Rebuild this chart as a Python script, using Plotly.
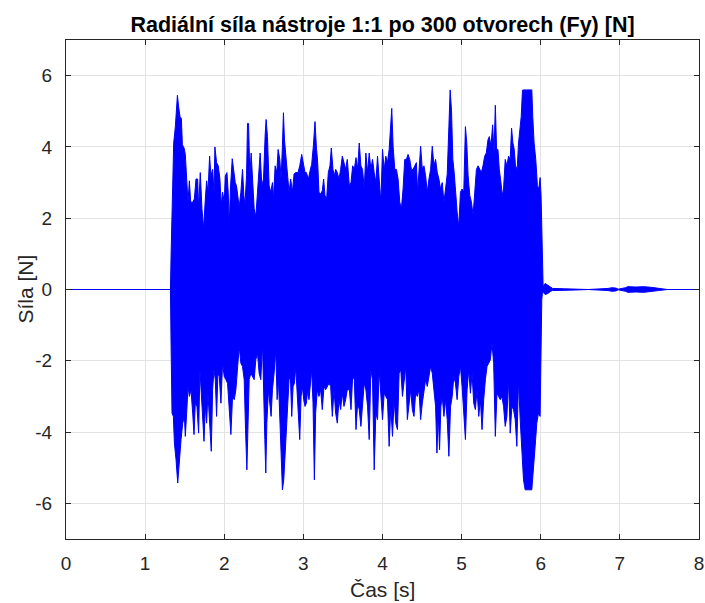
import plotly.graph_objects as go

# ---------------- data ----------------
pre_t = [0.0, 1.32]
pre_v = [0.0, 0.0]

top_t = [1.328, 1.340, 1.361, 1.382, 1.408, 1.424, 1.441, 1.458, 1.471, 1.492, 1.508, 1.525, 1.542,
         1.559, 1.576, 1.601, 1.622, 1.643, 1.664, 1.676, 1.697, 1.718, 1.739, 1.761, 1.777, 1.794,
         1.815, 1.832, 1.853, 1.870, 1.882, 1.903, 1.924, 1.945, 1.962, 1.979, 2.000, 2.013, 2.034,
         2.050, 2.063, 2.080, 2.101, 2.118, 2.139, 2.155, 2.172, 2.189, 2.210, 2.231, 2.248, 2.261,
         2.282, 2.294, 2.307, 2.324, 2.340, 2.357, 2.378, 2.399, 2.416, 2.437, 2.454, 2.475, 2.496,
         2.517, 2.529, 2.546, 2.567, 2.588, 2.609, 2.622, 2.643, 2.664, 2.681, 2.702, 2.718, 2.735,
         2.748, 2.761, 2.777, 2.798, 2.819, 2.840, 2.861, 2.882, 2.903, 2.933, 2.954, 2.979, 3.000,
         3.021, 3.038, 3.063, 3.088, 3.105, 3.126, 3.147, 3.164, 3.181, 3.197, 3.218, 3.239, 3.256,
         3.273, 3.294, 3.315, 3.336, 3.353, 3.374, 3.391, 3.408, 3.429, 3.450, 3.471, 3.492, 3.513,
         3.534, 3.555, 3.581, 3.602, 3.623, 3.644, 3.665, 3.686, 3.706, 3.727, 3.748, 3.769, 3.790,
         3.811, 3.832, 3.853, 3.874, 3.895, 3.916, 3.937, 3.958, 3.979, 4.000, 4.021, 4.042, 4.063,
         4.084, 4.105, 4.117, 4.134, 4.155, 4.176, 4.197, 4.218, 4.239, 4.260, 4.281, 4.302, 4.323,
         4.344, 4.365, 4.386, 4.407, 4.428, 4.444, 4.465, 4.482, 4.503, 4.524, 4.545, 4.566, 4.587,
         4.608, 4.629, 4.650, 4.671, 4.692, 4.713, 4.734, 4.755, 4.776, 4.797, 4.818, 4.839, 4.855,
         4.872, 4.889, 4.906, 4.922, 4.943, 4.964, 4.985, 5.006, 5.027, 5.048, 5.065, 5.082, 5.103,
         5.124, 5.145, 5.166, 5.187, 5.208, 5.229, 5.249, 5.270, 5.291, 5.312, 5.333, 5.350, 5.371,
         5.392, 5.409, 5.426, 5.442, 5.459, 5.476, 5.497, 5.514, 5.530, 5.551, 5.572, 5.593, 5.614,
         5.631, 5.648, 5.665, 5.681, 5.702, 5.719, 5.736, 5.753, 5.769, 5.786, 5.824, 5.866, 5.887,
         5.899, 5.916, 5.937, 5.958, 5.975, 5.992, 6.004, 6.013, 6.021]
top_v = [0.98, 2.54, 4.11, 4.57, 5.45, 5.12, 4.85, 4.80, 4.06, 3.97, 3.79, 3.10, 2.45,
         3.05, 2.45, 2.45, 2.54, 3.10, 3.10, 2.27, 3.28, 2.27, 1.71, 2.54, 3.05, 2.73,
         3.74, 3.19, 3.37, 2.73, 4.00, 3.56, 3.47, 3.10, 2.36, 2.73, 2.45, 3.19, 3.28,
         2.73, 1.81, 2.91, 3.67, 3.37, 3.00, 2.91, 2.54, 2.31, 2.73, 3.37, 2.64, 2.36,
         3.19, 4.66, 4.66, 3.19, 3.83, 2.91, 2.27, 2.04, 2.54, 3.19, 3.83, 2.91, 3.10,
         4.34, 4.77, 4.29, 2.91, 2.73, 3.00, 2.54, 3.47, 3.28, 3.93, 3.65, 3.10, 4.02,
         4.96, 4.20, 3.74, 3.28, 2.73, 3.10, 2.73, 3.24, 3.28, 3.28, 3.47, 3.79, 3.47,
         3.28, 3.28, 3.10, 3.37, 3.51, 4.02, 4.71, 4.02, 3.56, 2.73, 2.68, 2.77, 3.10,
         2.64, 2.54, 3.28, 3.47, 3.97, 3.37, 3.19, 3.37, 3.28, 3.10, 3.37, 3.74, 3.56,
         3.37, 3.65, 2.91, 3.00, 3.47, 3.37, 3.70, 3.37, 4.11, 3.47, 3.37, 2.82, 3.83,
         3.28, 3.83, 3.37, 3.65, 3.28, 3.00, 3.74, 3.00, 2.45, 3.93, 3.37, 3.74, 3.56,
         3.93, 4.62, 5.08, 4.02, 3.37, 3.37, 3.10, 2.45, 2.27, 2.82, 3.65, 3.65, 3.79,
         3.65, 3.37, 3.37, 3.47, 3.56, 2.73, 3.37, 4.02, 3.37, 3.47, 3.19, 2.73, 3.10,
         3.37, 4.02, 3.47, 3.65, 3.28, 3.10, 2.82, 3.00, 2.45, 2.82, 3.24, 4.57, 5.60,
         5.03, 3.65, 3.28, 2.73, 2.18, 1.76, 2.73, 2.82, 2.73, 4.57, 4.11, 3.19, 2.64,
         2.45, 2.08, 2.73, 3.37, 3.47, 3.37, 3.28, 3.47, 3.74, 3.83, 4.20, 4.29, 4.02,
         4.62, 3.83, 5.17, 3.93, 3.93, 3.37, 3.00, 2.64, 2.82, 3.65, 3.47, 3.74, 3.65,
         4.53, 4.11, 3.93, 3.47, 3.37, 4.11, 4.48, 4.85, 5.59, 5.60, 5.60, 5.60, 5.60,
         4.85, 4.11, 3.65, 2.91, 2.82, 3.14, 2.64, 1.62, 0.42]

bot_t = [1.328, 1.340, 1.357, 1.370, 1.391, 1.412, 1.433, 1.454, 1.475, 1.496, 1.508, 1.525, 1.542,
         1.559, 1.580, 1.601, 1.618, 1.634, 1.655, 1.676, 1.693, 1.710, 1.727, 1.744, 1.761, 1.777,
         1.794, 1.815, 1.836, 1.853, 1.870, 1.887, 1.903, 1.920, 1.937, 1.958, 1.979, 2.000, 2.021,
         2.042, 2.063, 2.084, 2.105, 2.126, 2.147, 2.168, 2.189, 2.210, 2.231, 2.252, 2.269, 2.286,
         2.303, 2.315, 2.336, 2.357, 2.378, 2.399, 2.420, 2.441, 2.462, 2.483, 2.496, 2.513, 2.525,
         2.538, 2.559, 2.576, 2.592, 2.609, 2.630, 2.651, 2.668, 2.685, 2.702, 2.718, 2.735, 2.752,
         2.769, 2.786, 2.803, 2.819, 2.836, 2.853, 2.870, 2.887, 2.903, 2.920, 2.937, 2.954, 2.971,
         2.987, 3.004, 3.021, 3.038, 3.055, 3.071, 3.088, 3.105, 3.122, 3.139, 3.155, 3.176, 3.197,
         3.218, 3.239, 3.261, 3.282, 3.303, 3.324, 3.345, 3.366, 3.387, 3.408, 3.429, 3.450, 3.471,
         3.492, 3.513, 3.534, 3.555, 3.581, 3.602, 3.623, 3.644, 3.665, 3.686, 3.706, 3.727, 3.748,
         3.769, 3.790, 3.811, 3.832, 3.853, 3.874, 3.895, 3.916, 3.937, 3.958, 3.979, 4.000, 4.021,
         4.042, 4.063, 4.084, 4.105, 4.126, 4.147, 4.168, 4.189, 4.210, 4.231, 4.252, 4.273, 4.294,
         4.314, 4.335, 4.356, 4.377, 4.398, 4.419, 4.440, 4.461, 4.482, 4.503, 4.524, 4.545, 4.566,
         4.587, 4.608, 4.629, 4.650, 4.671, 4.688, 4.704, 4.721, 4.738, 4.755, 4.776, 4.797, 4.818,
         4.839, 4.860, 4.881, 4.901, 4.922, 4.943, 4.964, 4.985, 5.006, 5.027, 5.048, 5.069, 5.090,
         5.111, 5.132, 5.153, 5.174, 5.195, 5.216, 5.237, 5.258, 5.279, 5.300, 5.321, 5.342, 5.363,
         5.384, 5.405, 5.426, 5.447, 5.468, 5.488, 5.509, 5.530, 5.551, 5.572, 5.593, 5.614, 5.635,
         5.656, 5.677, 5.698, 5.719, 5.740, 5.761, 5.782, 5.803, 5.845, 5.887, 5.908, 5.929, 5.950,
         5.971, 5.992, 6.004, 6.013, 6.021]
bot_v = [-1.60, -3.47, -3.56, -4.31, -4.78, -5.43, -4.78, -4.21, -3.75, -3.56, -4.12, -3.47, -2.72,
         -3.00, -2.81, -3.47, -4.07, -3.19, -3.28, -4.03, -2.25, -3.09, -3.65, -4.26, -3.28, -3.75,
         -2.91, -3.56, -4.54, -2.81, -2.25, -2.53, -3.56, -2.35, -2.44, -3.19, -2.07, -2.44, -2.53,
         -2.63, -3.28, -4.07, -3.00, -3.09, -2.81, -2.16, -1.60, -2.07, -2.16, -2.53, -3.93, -5.06,
         -3.65, -2.53, -2.35, -2.44, -2.53, -1.97, -1.79, -2.35, -2.53, -1.50, -2.53, -4.21, -5.15,
         -3.75, -2.81, -3.09, -3.56, -2.81, -2.35, -1.69, -3.09, -2.53, -3.65, -4.50, -5.62, -5.34,
         -4.87, -3.65, -3.28, -2.53, -2.44, -3.56, -2.72, -2.63, -2.16, -2.63, -3.56, -4.21, -3.00,
         -2.72, -3.09, -3.28, -3.19, -2.81, -3.09, -2.81, -2.25, -3.19, -5.34, -3.47, -2.81, -3.00,
         -2.81, -3.37, -2.72, -2.81, -2.72, -2.63, -2.72, -3.56, -2.81, -3.47, -3.75, -3.09, -3.37,
         -2.91, -3.28, -3.09, -2.81, -2.81, -3.37, -2.44, -2.53, -3.93, -3.19, -3.37, -3.84, -3.28,
         -2.63, -2.81, -3.28, -4.21, -2.25, -2.53, -5.06, -3.47, -3.65, -2.25, -3.00, -3.65, -2.91,
         -3.00, -3.09, -4.40, -3.28, -4.12, -3.09, -3.75, -3.93, -2.35, -2.25, -3.00, -2.53, -2.16,
         -3.65, -3.28, -2.81, -3.37, -3.56, -2.91, -3.00, -2.81, -3.65, -3.19, -2.81, -2.53, -2.72,
         -2.44, -2.16, -2.35, -2.72, -3.28, -4.59, -3.47, -4.50, -3.28, -3.00, -3.56, -3.09, -3.65,
         -4.68, -3.28, -3.00, -2.44, -2.63, -3.09, -2.44, -2.16, -2.72, -3.28, -4.21, -2.81, -2.25,
         -2.91, -2.35, -3.19, -3.37, -2.81, -3.56, -3.09, -3.93, -3.09, -2.53, -2.16, -2.07, -1.97,
         -1.50, -2.07, -4.12, -2.91, -3.00, -3.09, -3.00, -3.28, -3.84, -3.56, -2.53, -4.03, -3.28,
         -3.37, -3.65, -4.40, -2.53, -3.65, -4.59, -5.34, -5.62, -5.62, -5.62, -5.06, -4.40, -3.75,
         -3.47, -3.56, -2.07, -0.29, -0.10]

tail_t = [6.03, 6.055, 6.07, 6.09, 6.11, 6.126, 6.15, 6.30, 6.44, 6.60, 6.85, 6.90, 6.95, 6.98,
          7.07, 7.10, 7.20, 7.30, 7.40, 7.49, 7.60, 8.00]
tail_hi = [0.08, 0.17, 0.15, 0.12, 0.10, 0.06, 0.03, 0.02, 0.015, 0.0, 0.03, 0.05, 0.04, 0.01,
           0.05, 0.08, 0.07, 0.08, 0.06, 0.03, 0.0, 0.0]
tail_lo = [-0.08, -0.14, -0.13, -0.11, -0.09, -0.05, -0.03, -0.02, -0.015, 0.0, -0.03, -0.05, -0.04, -0.01,
           -0.05, -0.08, -0.07, -0.08, -0.06, -0.03, 0.0, 0.0]

x_ticks = [0, 1, 2, 3, 4, 5, 6, 7, 8]
y_ticks = [-6, -4, -2, 0, 2, 4, 6]
y_tick_text = ["-6", "-4", "-2", "0", "2", "4", "6"]

title_text = "Radiální síla nástroje 1:1 po 300 otvorech (Fy) [N]"
x_label = "Čas [s]"
y_label = "Síla [N]"

# ---------------- figure ----------------
poly_x = pre_t + top_t + tail_t + tail_t[::-1] + bot_t[::-1] + pre_t[::-1]
poly_y = pre_v + top_v + tail_hi + tail_lo[::-1] + bot_v[::-1] + pre_v[::-1]

BLUE = "#0000ff"
FONT = "Liberation Sans, Arial, Helvetica, sans-serif"
TXT = "#262626"

fig = go.Figure()
fig.add_trace(go.Scatter(x=poly_x, y=poly_y, mode="lines", fill="toself",
                         fillcolor=BLUE, line=dict(color=BLUE, width=1),
                         hoverinfo="skip", showlegend=False))

axis_common = dict(showline=True, linecolor=TXT, linewidth=1, mirror="ticks",
                   ticks="inside", ticklen=5, tickcolor=TXT, tickwidth=1,
                   showgrid=True, gridcolor="#e3e3e3", gridwidth=1, zeroline=False,
                   automargin=False,
                   tickfont=dict(family=FONT, size=19, color=TXT))

fig.update_layout(
    width=705, height=603,
    margin=dict(l=66, r=6, t=40, b=64),
    paper_bgcolor="white", plot_bgcolor="white",
    title=dict(text="<b>" + title_text + "</b>",
               x=0.5, xref="paper", xanchor="center", y=0.959, yref="container", yanchor="middle",
               font=dict(family=FONT, size=21.5, color="#000000")),
    xaxis=dict(range=[0, 8], tickvals=x_ticks, ticklabelstandoff=7, **axis_common),
    yaxis=dict(range=[-7, 7], tickvals=y_ticks, ticktext=y_tick_text, ticklabelstandoff=9,
               **axis_common),
    annotations=[
        dict(text=x_label, xref="paper", yref="paper", x=0.5, y=0, xanchor="center",
             yanchor="middle", yshift=-50, showarrow=False,
             font=dict(family=FONT, size=21, color=TXT)),
        dict(text=y_label, xref="paper", yref="paper", x=0, y=0.5, xanchor="center",
             yanchor="middle", xshift=-41, textangle=-90, showarrow=False,
             font=dict(family=FONT, size=21, color=TXT)),
    ],
)

fig.write_html("out.html", config={"displayModeBar": False},
               post_script="document.body.style.margin='0px';")
